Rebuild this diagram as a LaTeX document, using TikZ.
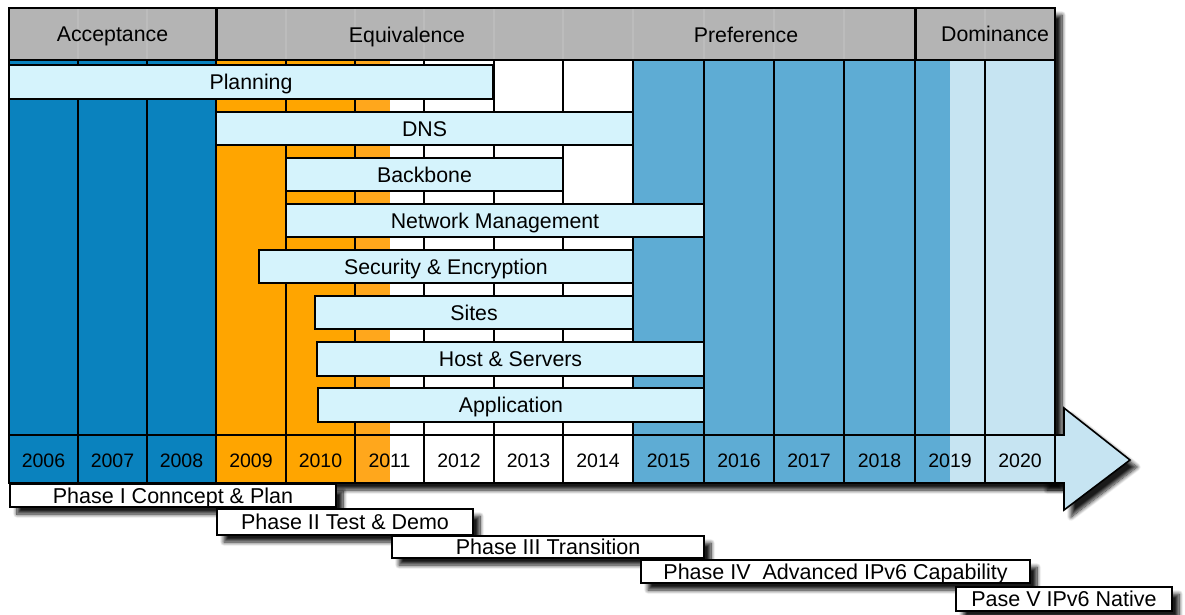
\documentclass[tikz,border=0pt]{standalone}
\usepackage{fontspec}
\setmainfont{Liberation Sans}
\usetikzlibrary{shadows.blur}
\definecolor{colDark}{RGB}{10,130,190}
\definecolor{colOrange}{RGB}{255,165,0}
\definecolor{colOrangeB}{RGB}{255,167,28}
\definecolor{colMed}{RGB}{94,172,212}
\definecolor{colLight}{RGB}{198,228,242}
\definecolor{barFill}{RGB}{213,243,252}
\definecolor{headGray}{RGB}{180,180,180}
\definecolor{headSeam}{RGB}{188,188,188}
\begin{document}
\begin{tikzpicture}[x=1pt,y=-1pt,
  lbl/.style={font=\fontsize{21.3}{25}\selectfont, text height=15.2pt, text depth=0pt, inner sep=0pt},
  bar/.style={lbl, draw=black, line width=1.6pt, fill=barFill},
  yearlbl/.style={font=\fontsize{19.5}{23}\selectfont, text height=14pt, text depth=0pt, inner sep=0pt},
  softshadow/.style={blur shadow={shadow xshift=7pt, shadow yshift=-7pt, shadow blur radius=4pt, shadow blur steps=10, shadow opacity=90}},
  phasebox/.style={draw=black, line width=1.6pt, fill=white, font=\fontsize{21.5}{25}\selectfont, text height=15.4pt, text depth=0pt, inner sep=0pt, softshadow},
  colline/.style={line width=2.6pt},
]
\useasboundingbox (0,0) rectangle (1185,614);

% shadow of the whole chart block
\fill[white, softshadow] (9,8) rectangle (1055,483);

% time arrow behind the year row
\draw[fill=colLight, line width=1.6pt, line join=miter, softshadow]
  (1040,435) -- (1064,435) -- (1064,408) -- (1130,460) -- (1064,510) -- (1064,483) -- (1040,483) -- cycle;

% column fills (body and year row)
\fill[colDark]    (9,60)   rectangle (216,483);
\fill[colOrange]  (216,60) rectangle (355,483);
\fill[colOrangeB] (355,60) rectangle (390,483);
\fill[white]      (390,60) rectangle (633,483);
\fill[colMed]     (633,60) rectangle (950,483);
\fill[colLight]   (950,60) rectangle (1055,483);

% column separators
\foreach \x in {78,147,216,286,355,424,494,563,633,704,774,844,915,985}
  \draw[colline] (\x,60) -- (\x,483);
\draw[line width=2.2pt] (9,60) rectangle (1055,483);
\draw[line width=2.4pt] (9,435) -- (1055,435);

% work streams
\node[bar, minimum width=484pt, minimum height=34pt] (planning) at (251,82) {Planning};
\node[bar, minimum width=417pt, minimum height=33pt] (dns) at (424.5,128.5) {DNS};
\node[bar, minimum width=277pt, minimum height=33pt] (backbone) at (424.5,174.5) {Backbone};
\node[bar, minimum width=418pt, minimum height=33pt] (netmgmt) at (495,220.5) {Network Management};
\node[bar, minimum width=374pt, minimum height=33pt] (security) at (446,266.5) {Security \& Encryption};
\node[bar, minimum width=318pt, minimum height=33pt] (sites) at (474,312.5) {Sites};
\node[bar, minimum width=387pt, minimum height=34pt] (hosts) at (510.5,359) {Host \& Servers};
\node[bar, minimum width=386pt, minimum height=34pt] (application) at (511,405) {Application};

% years
\foreach \yr/\cx in {2006/43.5, 2007/112.5, 2008/181.5, 2009/251, 2010/320.5, 2011/389.5,
                     2012/459, 2013/528.5, 2014/598, 2015/668.5, 2016/739, 2017/809,
                     2018/879.5, 2019/950, 2020/1020}
  \node[yearlbl] (y\yr) at (\cx,460) {\yr};

% header band
\fill[headGray] (9,8) rectangle (1055,60);
\foreach \x in {78,147,286,355,424,494,563,633,704,774,844,985}
  \draw[headSeam, line width=1.2pt] (\x,9) -- (\x,59);
\draw[line width=2pt] (9,8) rectangle (1055,60);
\draw[line width=3pt] (216,8) -- (216,60);
\draw[line width=3pt] (915,8) -- (915,60);
\node[lbl] (acceptance) at (112.5,34) {Acceptance};
\node[lbl] (equivalence) at (407,35) {Equivalence};
\node[lbl] (preference) at (746,35) {Preference};
\node[lbl] (dominance) at (995,34) {Dominance};

% phases
\node[phasebox, minimum width=326pt, minimum height=23pt] (phase1) at (173,495.5) {Phase I Conncept \& Plan};
\node[phasebox, minimum width=256pt, minimum height=26pt] (phase2) at (345,522) {Phase II Test \& Demo};
\node[phasebox, minimum width=312pt, minimum height=22pt] (phase3) at (548,547) {Phase III Transition};
\node[phasebox, minimum width=389pt, minimum height=23pt] (phase4) at (835.5,571.5) {Phase IV\ \ Advanced IPv6 Capability};
\node[phasebox, minimum width=216pt, minimum height=24pt] (phase5) at (1064,599) {Pase V IPv6 Native};
\end{tikzpicture}
\end{document}
